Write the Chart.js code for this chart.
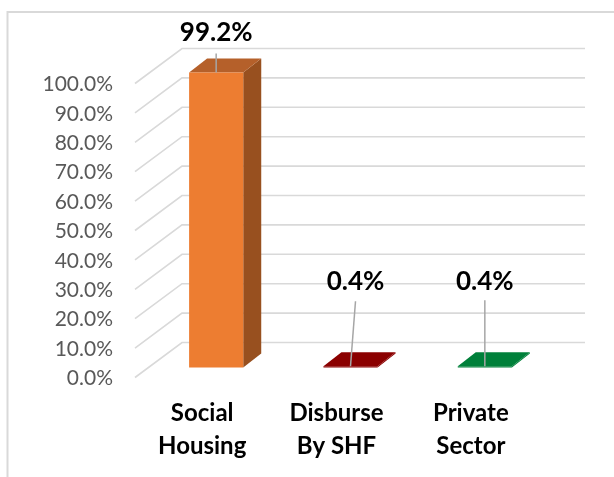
<!DOCTYPE html>
<html>
<head>
<meta charset="utf-8">
<style>html,body{margin:0;padding:0;background:#fff}canvas{display:block}</style>
<script src="https://cdn.jsdelivr.net/npm/chart.js@4"></script>
</head>
<body>
<canvas id="c" width="614" height="477"></canvas>
<script>
const categories = [['Social', 'Housing'], ['Disburse', 'By SHF'], ['Private', 'Sector']];
const shares = [99.2, 0.4, 0.4];
const frontColors = ['#ED7D31', '#8B0000', '#00803A'];
const topColors = ['#B5602A', '#8B0000', '#00803A'];
const sideColors = ['#98501F', '#8B0000', '#00803A'];
const labelFont = 'Lato, Carlito, Calibri, sans-serif';

const depth = { x: 47, y: -35 };       // floor depth of the 3D box
const barShift = { x: 14, y: -10 };    // bars stand part way back on the floor
const barDepth = { x: 18, y: -14 };    // depth of each bar

const labelPlacement = [
  { dx: 0, dy: -40, lineDx: 0, lineTop: -19, lineBottom: 0 },
  { dx: 5, dy: -85, lineDx: 5, lineTop: -65, lineBottom: 0 },
  { dx: 0, dy: -85, lineDx: 0, lineTop: -66, lineBottom: 0 }
];

const box3d = {
  id: 'box3d',
  beforeDraw(chart) {
    const { ctx, scales: { x, y } } = chart;
    ctx.save();
    // chart frame
    ctx.strokeStyle = '#D9D9D9';
    ctx.lineWidth = 2;
    ctx.beginPath();
    ctx.moveTo(7.5, 477);
    ctx.lineTo(7.5, 12);
    ctx.lineTo(614, 12);
    ctx.stroke();
    // walls
    ctx.lineWidth = 1.6;
    y.ticks.forEach(t => {
      const py = y.getPixelForValue(t.value);
      ctx.beginPath();
      ctx.moveTo(x.left, py);
      ctx.lineTo(x.left + depth.x, py + depth.y);
      ctx.lineTo(x.right + depth.x, py + depth.y);
      ctx.stroke();
    });
    ctx.restore();
  },
  beforeDatasetDraw(chart) {
    const { ctx } = chart;
    ctx.save();
    ctx.translate(barShift.x, barShift.y);
    chart.getDatasetMeta(0).data.forEach((bar, i) => {
      const { x, y, base, width } = bar.getProps(['x', 'y', 'base', 'width'], true);
      const r = x + width / 2, l = x - width / 2;
      ctx.fillStyle = sideColors[i];
      ctx.beginPath();
      ctx.moveTo(r, y);
      ctx.lineTo(r + barDepth.x, y + barDepth.y);
      ctx.lineTo(r + barDepth.x, base + barDepth.y);
      ctx.lineTo(r, base);
      ctx.closePath();
      ctx.fill();
      ctx.fillStyle = topColors[i];
      ctx.beginPath();
      ctx.moveTo(l, y);
      ctx.lineTo(l + barDepth.x, y + barDepth.y);
      ctx.lineTo(r + barDepth.x, y + barDepth.y);
      ctx.lineTo(r, y);
      ctx.closePath();
      ctx.fill();
    });
  },
  afterDatasetDraw(chart) {
    chart.ctx.restore();
  },
  afterDatasetsDraw(chart) {
    const { ctx } = chart;
    ctx.save();
    chart.getDatasetMeta(0).data.forEach((bar, i) => {
      const { x, y } = bar.getProps(['x', 'y'], true);
      const bx = x + barShift.x, by = y + barShift.y;
      const p = labelPlacement[i];
      ctx.strokeStyle = '#A6A6A6';
      ctx.lineWidth = 1.5;
      ctx.beginPath();
      ctx.moveTo(bx + p.lineDx, by + p.lineTop);
      ctx.lineTo(bx, by + p.lineBottom);
      ctx.stroke();
      ctx.fillStyle = '#000';
      ctx.font = 'bold 26px ' + labelFont;
      ctx.textAlign = 'center';
      ctx.textBaseline = 'middle';
      ctx.fillText(shares[i].toFixed(1) + '%', bx + p.dx, by + p.dy);
    });
    ctx.restore();
  }
};

new Chart(document.getElementById('c'), {
  type: 'bar',
  data: {
    labels: categories,
    datasets: [{
      data: shares,
      backgroundColor: frontColors,
      borderWidth: 0,
      categoryPercentage: 1,
      barPercentage: 0.403,
      yAxisID: 'yBar',
      clip: false
    }]
  },
  plugins: [box3d],
  options: {
    responsive: false,
    animation: false,
    layout: { padding: { left: 0, right: 76, top: 83.5, bottom: 0 } },
    plugins: { legend: { display: false }, tooltip: { enabled: false } },
    scales: {
      x: {
        grid: { display: false },
        border: { display: false },
        afterFit(s) { s.height = 99.5; },
        ticks: {
          maxRotation: 0,
          autoSkip: false,
          padding: 11,
          color: '#000',
          font: { family: labelFont, size: 24, weight: 'bold', lineHeight: 1.375 }
        }
      },
      y: {
        position: 'left',
        min: 0,
        max: 100,
        grid: { display: false, drawTicks: false },
        border: { display: false },
        afterFit(s) { s.width = 135; },
        ticks: {
          stepSize: 10,
          padding: 22,
          labelOffset: 1,
          color: '#595959',
          font: { family: labelFont, size: 21 },
          callback: v => v.toFixed(1) + '%'
        }
      },
      yBar: {
        display: false,
        min: 0,
        max: 98.9
      }
    }
  }
});
</script>
</body>
</html>
